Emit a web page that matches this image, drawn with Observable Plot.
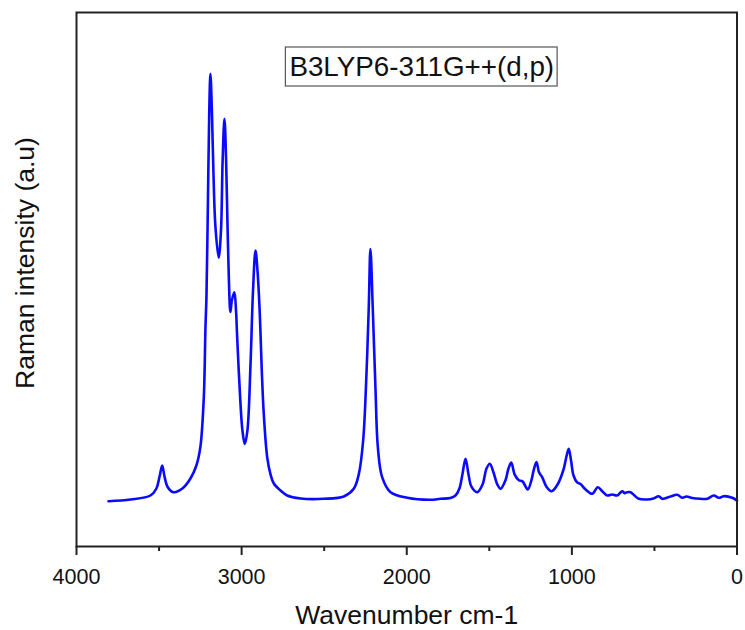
<!DOCTYPE html>
<html>
<head>
<meta charset="utf-8">
<script src="https://cdn.jsdelivr.net/npm/d3@7"></script>
<script src="https://cdn.jsdelivr.net/npm/@observablehq/plot@0.6"></script>
<style>
  html, body { margin: 0; padding: 0; background: #fff; }
</style>
</head>
<body>
<div id="chart"></div>
<script>
// Raman spectrum (arbitrary units)
const wavenumber = [3806,3673,3552,3516,3497,3481,3467,3449,3413,3359,3310,3274,3250,3229,3219,3213,3204,3196,3189,3180,3171,3159,3139,3125,3115,3104,3094,3086,3077,3068,3059,3044,3034,3027,3007,2995,2981,2965,2946,2931,2916,2904,2890,2878,2866,2845,2825,2805,2765,2724,2643,2502,2381,2321,2290,2264,2244,2230,2220,2206,2189,2175,2149,2098,1997,1856,1796,1735,1705,1681,1663,1644,1626,1608,1573,1541,1517,1497,1475,1451,1432,1402,1384,1367,1347,1321,1299,1267,1245,1229,1214,1199,1180,1154,1123,1087,1049,1033,1019,1005,990,968,948,918,877,843,815,786,756,726,695,681,665,645,621,595,544,506,474,453,403,362,332,306,271,221,180,141,110,80,29,0];
const intensity = [8.48,8.80,9.55,10.86,13.1,15.17,13.1,11.2,10.17,10.86,12.73,15.17,18.6,27.96,41.07,46.7,64.8,81.6,88.5,81.6,70.4,60.1,54.1,59.2,72.3,80.1,72.3,61.0,49.8,43.9,46.1,47.6,44.2,39.2,26.8,21.7,19.2,21.7,34.3,47.9,55.4,51.7,43.6,33.0,24.9,16.7,13.5,11.8,10.5,9.55,8.99,8.93,9.36,10.8,13.6,19.85,32.3,44.8,55.7,44.8,29.2,18.6,13.0,10.17,9.12,8.75,8.93,9.08,9.55,10.86,13.5,16.4,13.5,11.2,10.17,11.6,14.6,15.5,13.9,11.6,10.8,12.4,14.6,15.7,13.5,12.4,12.2,10.7,12.4,14.6,15.8,13.9,13.0,11.2,10.36,11.6,14.6,16.85,18.3,16.1,13.3,12.0,11.7,10.7,9.87,11.1,10.3,9.55,9.74,9.55,10.36,10.0,10.17,10.17,9.55,8.93,8.80,8.99,9.42,8.93,9.36,9.68,9.12,9.36,9.08,8.93,8.93,9.55,9.12,9.42,9.12,8.6];

const majorTicks = [0, 1000, 2000, 3000, 4000];
const minorTicks = [500, 1500, 2500, 3500];
const xTitle = "Wavenumber cm-1";
const yTitle = "Raman intensity (a.u)";
const annotation = "B3LYP6-311G++(d,p)";

const data = wavenumber.map((w, i) => ({w, v: intensity[i]}));

const font = "'Liberation Sans', Arial, Helvetica, sans-serif";

const chart = Plot.plot({
  width: 745,
  height: 630,
  marginLeft: 76,
  marginRight: 8.5,
  marginTop: 12,
  marginBottom: 84,
  style: {fontFamily: font, fontSize: "21px", background: "#fff", color: "#000", overflow: "visible"},
  x: {domain: [4000, 0], axis: null},
  y: {domain: [0, 100], axis: null},
  marks: [
    Plot.axisX(majorTicks, {tickSize: 9, tickPadding: 13, fontSize: 21.5, strokeWidth: 2, stroke: "#222", fill: "#111", label: null, tickFormat: d => String(d)}),
    Plot.axisX(minorTicks, {tickSize: 5, strokeWidth: 2, stroke: "#222", text: null, label: null}),
    Plot.line(data, {x: "w", y: "v", stroke: "#0a0aff", strokeWidth: 2.6, curve: "catmull-rom"}),
    Plot.frame({stroke: "#222", strokeWidth: 2}),
    Plot.text([xTitle], {frameAnchor: "bottom", lineAnchor: "bottom", dy: 77, fontSize: 26.5, fill: "#111"}),
    Plot.text([yTitle], {frameAnchor: "left", textAnchor: "middle", lineAnchor: "bottom", rotate: -90, dx: -43, dy: -16.5, fontSize: 26.5, fill: "#111"}),
    Plot.text([annotation], {frameAnchor: "top", textAnchor: "middle", lineAnchor: "bottom", dx: 15, dy: 63, fontSize: 27.8, fill: "#111", className: "annot"})
  ]
});

document.getElementById("chart").append(chart);

// draw a box around the annotation
const svg = chart.tagName.toLowerCase() === "svg" ? chart : chart.querySelector("svg");
const t = svg.querySelector(".annot text");
if (t) {
  const b = t.getBBox();
  const r = document.createElementNS("http://www.w3.org/2000/svg", "rect");
  r.setAttribute("x", b.x - 4);
  r.setAttribute("y", b.y - 3.5);
  r.setAttribute("width", b.width + 7);
  r.setAttribute("height", b.height + 8);
  r.setAttribute("fill", "none");
  r.setAttribute("stroke", "#555");
  r.setAttribute("stroke-width", "1.2");
  if (t.getAttribute("transform")) r.setAttribute("transform", t.getAttribute("transform"));
  t.parentNode.insertBefore(r, t);
}
</script>
</body>
</html>
